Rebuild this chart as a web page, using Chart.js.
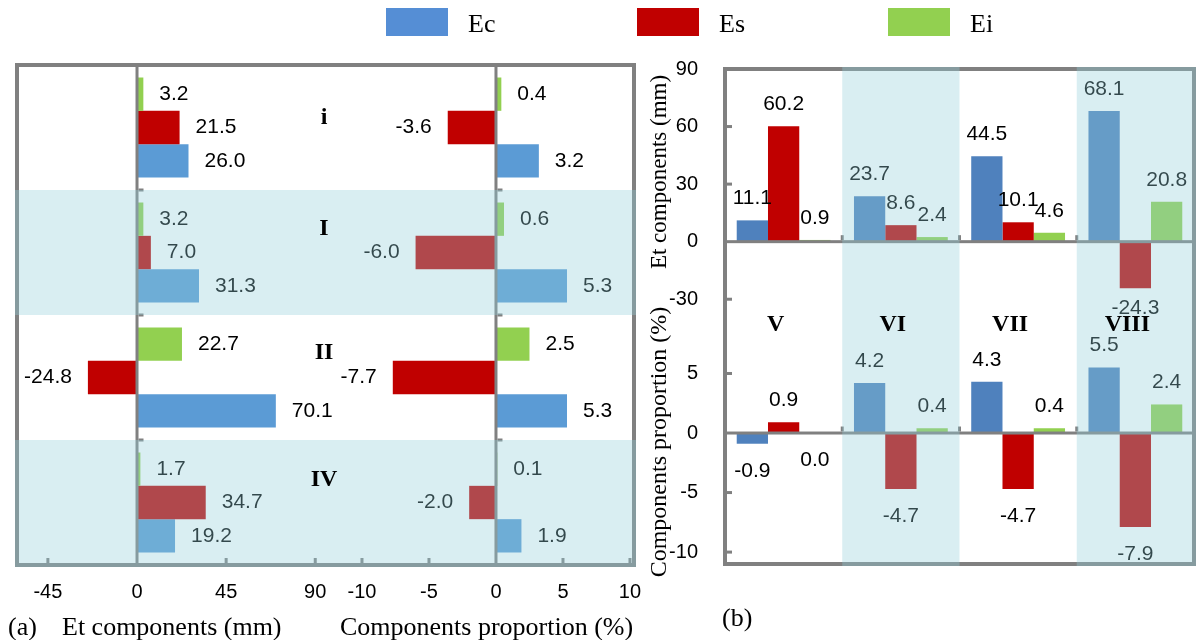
<!DOCTYPE html>
<html>
<head>
<meta charset="utf-8">
<script src="https://cdn.jsdelivr.net/npm/chart.js@4.4.1/dist/chart.umd.min.js"></script>
<style>
  html, body { margin: 0; padding: 0; background: #fff; width: 1200px; height: 640px; overflow: hidden; }
  canvas { position: absolute; left: 0; top: 0; }
  .t { position: absolute; font-family: "Liberation Serif", "Times New Roman", serif; color: #000; white-space: nowrap; line-height: 1; }
  .box { position: absolute; }
</style>
</head>
<body>
<canvas id="aLeft" width="1200" height="640"></canvas>
<canvas id="aRight" width="1200" height="640"></canvas>
<canvas id="bTop" width="1200" height="640"></canvas>
<canvas id="bBottom" width="1200" height="640"></canvas>

<!-- legend -->
<div class="box" style="left:386px;top:8px;width:62px;height:28px;background:#558ed5"></div>
<div class="t" style="left:468px;top:24px;font-size:26px;transform:translateY(-50%)">Ec</div>
<div class="box" style="left:637px;top:8px;width:62px;height:28px;background:#c00000"></div>
<div class="t" style="left:719px;top:24px;font-size:26px;transform:translateY(-50%)">Es</div>
<div class="box" style="left:888px;top:8px;width:62px;height:28px;background:#92d050"></div>
<div class="t" style="left:970px;top:24px;font-size:26px;transform:translateY(-50%)">Ei</div>

<!-- axis titles -->
<div class="t" style="left:8px;top:627px;font-size:26px;transform:translateY(-50%)">(a)</div>
<div class="t" style="left:62px;top:627px;font-size:26px;transform:translateY(-50%)">Et components (mm)</div>
<div class="t" style="left:340px;top:627px;font-size:26px;transform:translateY(-50%)">Components proportion (%)</div>
<div class="t" style="left:722px;top:618px;font-size:26px;transform:translateY(-50%)">(b)</div>
<div class="t" style="left:658px;top:172px;font-size:23px;transform:translate(-50%,-50%) rotate(-90deg)">Et components (mm)</div>
<div class="t" style="left:658px;top:442px;font-size:24px;transform:translate(-50%,-50%) rotate(-90deg)">Components proportion (%)</div>

<script>
// ---- data ----
const rowsA = ['i', 'I', 'II', 'IV'];
const colsB = ['V', 'VI', 'VII', 'VIII'];

// (a) Et components, mm
const ecMmA = [26.0, 31.3, 70.1, 19.2];
const esMmA = [21.5, 7.0, -24.8, 34.7];
const eiMmA = [3.2, 3.2, 22.7, 1.7];
// (a) components proportion, %
const ecPctA = [3.2, 5.3, 5.3, 1.9];
const esPctA = [-3.6, -6.0, -7.7, -2.0];
const eiPctA = [0.4, 0.6, 2.5, 0.1];

// (b) Et components, mm
const ecMmB = [11.1, 23.7, 44.5, 68.1];
const esMmB = [60.2, 8.6, 10.1, -24.3];
const eiMmB = [0.9, 2.4, 4.6, 20.8];
// (b) components proportion, %
const ecPctB = [-0.9, 4.2, 4.3, 5.5];
const esPctB = [0.9, -4.7, -4.7, -7.9];
const eiPctB = [0.0, 0.4, 0.4, 2.4];

// tick labels
const ticksMmA = [-45, 0, 45, 90];
const ticksPctA = [-10, -5, 0, 5, 10];
const ticksMmB = [90, 60, 30, 0, -30];
const ticksPctB = [5, 0, -5, -10];

// highlighted groups
const shadedA = ['I', 'IV'];
const shadedB = ['VI', 'VIII'];

// ---- styling ----
const FRAME_COLOR = '#808080';
const OVERLAY = 'rgba(146,206,218,0.35)';
const EC_A = '#5b9bd5', EC_B = '#4f81bd', ES = '#c00000', EI = '#92d050';
const FONT_NUM = '"Liberation Sans", Arial, sans-serif';
const FONT_SERIF = '"Liberation Serif", "Times New Roman", serif';

// Frame, zero line, ticks, value labels, highlight bands and group names
const panelPlugin = {
  id: 'panel',
  afterDatasetsDraw(chart, args, o) {
    const ctx = chart.ctx, a = chart.chartArea;
    const horiz = chart.options.indexAxis === 'y';
    const vs = horiz ? chart.scales.x : chart.scales.y;
    const n = chart.data.labels.length;
    const sd = o.sides;
    const W = 4, h = 2;
    ctx.save();
    ctx.fillStyle = FRAME_COLOR;
    const x0 = a.left - (sd.left ? h : 0), x1 = a.right + (sd.right ? h : 0);
    const y0 = a.top - (sd.top ? h : 0), y1 = a.bottom + (sd.bottom ? h : 0);
    if (sd.top) ctx.fillRect(x0, a.top - h, x1 - x0, W);
    if (sd.bottom) ctx.fillRect(x0, a.bottom - h, x1 - x0, W);
    if (sd.left) ctx.fillRect(a.left - h, y0, W, y1 - y0);
    if (sd.right) ctx.fillRect(a.right - h, y0, W, y1 - y0);

    const z = vs.getPixelForValue(0);
    const step = horiz ? (a.bottom - a.top) / n : (a.right - a.left) / n;
    if (horiz) {
      ctx.fillRect(z - 1.5, a.top, 3, a.bottom - a.top);
      for (let k = 1; k < n; k++) ctx.fillRect(z + 1.5, a.top + k * step - 1.5, 5, 3);
    } else {
      ctx.fillRect(a.left, z - 1.5, a.right - a.left, 3);
      for (let k = 1; k < n; k++) ctx.fillRect(a.left + k * step - 1.5, z - 6.5, 3, 5);
    }

    // value axis ticks
    ctx.font = '20px ' + FONT_NUM;
    ctx.textBaseline = 'middle';
    o.ticks.forEach(v => {
      const p = vs.getPixelForValue(v);
      ctx.fillStyle = FRAME_COLOR;
      if (horiz) {
        if (v !== 0) ctx.fillRect(p - 1.5, a.bottom - h - 5, 3, 5);
        ctx.fillStyle = '#000';
        ctx.textAlign = 'center';
        ctx.fillText(String(v), p, a.bottom + 27);
      } else {
        if (v !== 0) ctx.fillRect(a.left + h, p - 1.5, 5, 3);
        ctx.fillStyle = '#000';
        ctx.textAlign = 'right';
        ctx.fillText(String(v), a.left - 27, p);
      }
    });

    // value labels
    const below = o.belowGap || 27;
    ctx.font = '21px ' + FONT_NUM;
    ctx.fillStyle = '#000';
    chart.data.datasets.forEach((ds, di) => {
      const meta = chart.getDatasetMeta(di);
      meta.data.forEach((el, i) => {
        const v = ds.data[i];
        const t = v.toFixed(1);
        if (horiz) {
          ctx.textAlign = v >= 0 ? 'left' : 'right';
          ctx.fillText(t, el.x + (v >= 0 ? 16 : -16), el.y);
        } else {
          ctx.textAlign = 'center';
          ctx.fillText(t, el.x, v > 0 ? el.y - 22 : el.y + below);
        }
      });
    });
    ctx.restore();
  },
  afterDraw(chart, args, o) {
    const ctx = chart.ctx, a = chart.chartArea;
    const horiz = chart.options.indexAxis === 'y';
    const labels = chart.data.labels;
    const n = labels.length;
    const sd = o.sides;
    const step = horiz ? (a.bottom - a.top) / n : (a.right - a.left) / n;
    ctx.save();
    ctx.fillStyle = OVERLAY;
    labels.forEach((lab, k) => {
      if (!o.shaded.includes(lab)) return;
      if (horiz) {
        let yy0 = a.top + k * step, yy1 = yy0 + step;
        if (k === 0 && sd.top) yy0 -= 2;
        if (k === n - 1 && sd.bottom) yy1 += 2;
        const xx0 = a.left - (sd.left ? 2 : 0), xx1 = a.right + (sd.right ? 2 : 0);
        ctx.fillRect(xx0, yy0, xx1 - xx0, yy1 - yy0);
      } else {
        let xx0 = a.left + k * step, xx1 = xx0 + step;
        if (k === 0 && sd.left) xx0 -= 2;
        if (k === n - 1 && sd.right) xx1 += 2;
        const yy0 = a.top - (sd.top ? 2 : 0), yy1 = a.bottom + (sd.bottom ? 2 : 0);
        ctx.fillRect(xx0, yy0, xx1 - xx0, yy1 - yy0);
      }
    });
    if (o.groupNames) {
      const g = o.groupNames;
      ctx.fillStyle = '#000';
      ctx.font = 'bold 24px ' + FONT_SERIF;
      ctx.textAlign = 'center';
      ctx.textBaseline = 'middle';
      labels.forEach((lab, k) => {
        if (horiz) {
          ctx.fillText(lab, a.left + g.dx, a.top + (k + 0.5) * step + g.dy[k]);
        } else {
          ctx.fillText(lab, a.left + (k + 0.5) * step + g.dx, a.top + g.dy);
        }
      });
    }
    ctx.restore();
  }
};

function makeChart(id, cfg) {
  const horiz = cfg.horiz;
  const valueScale = { type: 'linear', display: false, min: cfg.min, max: cfg.max };
  const catScale = { type: 'category', display: false, offset: true };
  return new Chart(document.getElementById(id), {
    type: 'bar',
    data: {
      labels: cfg.labels,
      datasets: cfg.datasets.map(d => ({
        label: d.label, data: d.data, backgroundColor: d.color,
        borderWidth: 0, categoryPercentage: 0.8, barPercentage: 1.0
      }))
    },
    options: {
      indexAxis: horiz ? 'y' : 'x',
      responsive: false,
      animation: false,
      devicePixelRatio: 1,
      events: [],
      layout: { padding: cfg.padding },
      scales: horiz ? { x: valueScale, y: catScale } : { x: catScale, y: valueScale },
      plugins: {
        legend: { display: false },
        tooltip: { enabled: false },
        panel: cfg.panel
      }
    },
    plugins: [panelPlugin]
  });
}

// (a) left: mm
makeChart('aLeft', {
  horiz: true, labels: rowsA, min: -60.6, max: 102.5,
  padding: { left: 17, right: 860, top: 65, bottom: 75 },
  datasets: [
    { label: 'Ei', data: eiMmA, color: EI },
    { label: 'Es', data: esMmA, color: ES },
    { label: 'Ec', data: ecMmA, color: EC_A }
  ],
  panel: { sides: { top: true, bottom: true, left: true, right: false }, ticks: ticksMmA, shaded: shadedA }
});

// (a) right: proportion
makeChart('aRight', {
  horiz: true, labels: rowsA, min: -11.64, max: 10.3,
  padding: { left: 340, right: 566, top: 65, bottom: 75 },
  datasets: [
    { label: 'Ei', data: eiPctA, color: EI },
    { label: 'Es', data: esPctA, color: ES },
    { label: 'Ec', data: ecPctA, color: EC_A }
  ],
  panel: {
    sides: { top: true, bottom: true, left: false, right: true }, ticks: ticksPctA, shaded: shadedA,
    groupNames: { dx: -16, dy: [-10, -24, -25, -23] }
  }
});

// (b) top: mm
makeChart('bTop', {
  horiz: false, labels: colsB, min: -45, max: 90,
  padding: { left: 725, right: 6, top: 69, bottom: 312 },
  datasets: [
    { label: 'Ec', data: ecMmB, color: EC_B },
    { label: 'Es', data: esMmB, color: ES },
    { label: 'Ei', data: eiMmB, color: EI }
  ],
  panel: { sides: { top: true, bottom: false, left: true, right: true }, ticks: ticksMmB, shaded: shadedB, belowGap: 20 }
});

// (b) bottom: proportion
makeChart('bBottom', {
  horiz: false, labels: colsB, min: -11.0, max: 8.82,
  padding: { left: 725, right: 6, top: 328, bottom: 76 },
  datasets: [
    { label: 'Ec', data: ecPctB, color: EC_B },
    { label: 'Es', data: esPctB, color: ES },
    { label: 'Ei', data: eiPctB, color: EI }
  ],
  panel: {
    sides: { top: false, bottom: true, left: true, right: true }, ticks: ticksPctB, shaded: shadedB,
    groupNames: { dx: -8, dy: -3 }
  }
});
</script>
</body>
</html>
